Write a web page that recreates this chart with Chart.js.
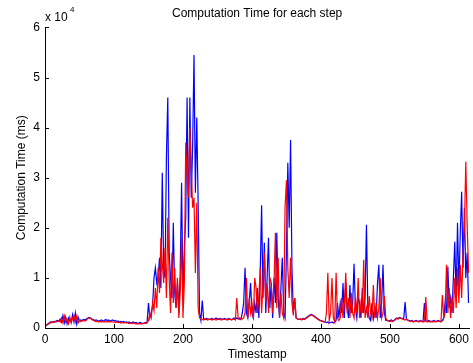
<!DOCTYPE html>
<html>
<head>
<meta charset="utf-8">
<script src="https://cdn.jsdelivr.net/npm/chart.js@4"></script>
<style>
  html, body { margin: 0; padding: 0; background: #fff; }
  canvas { display: block; }
</style>
</head>
<body>
<canvas id="chart" width="473" height="363"></canvas>
<script>
// --- data (values in units of 10^4 ms, one sample every 2 timestamps) ---
const STEP = 2;
const xTicks = [0, 100, 200, 300, 400, 500, 600];
const yTicks = [0, 1, 2, 3, 4, 5, 6];

const blueTimes = [
  0.05,0.06,0.08,0.10,0.12,0.11,0.13,0.12,0.14,0.15,
  0.13,0.18,0.12,0.25,0.10,0.22,0.08,0.20,0.14,0.12,
  0.27,0.12,0.30,0.08,0.22,0.14,0.16,0.15,0.17,0.16,
  0.18,0.20,0.21,0.20,0.18,0.17,0.15,0.16,0.15,0.14,
  0.15,0.16,0.14,0.15,0.17,0.15,0.16,0.14,0.15,0.16,
  0.14,0.15,0.13,0.14,0.12,0.13,0.12,0.13,0.11,0.12,
  0.11,0.12,0.10,0.11,0.12,0.10,0.11,0.09,0.10,0.11,
  0.10,0.09,0.10,0.11,0.12,0.50,0.20,0.30,0.45,1.00,
  1.20,0.90,1.00,1.40,0.80,3.10,1.20,1.00,3.40,4.60,
  1.50,1.00,0.60,2.10,0.70,0.40,0.90,0.30,1.10,2.90,
  0.60,1.60,2.20,4.60,1.80,4.60,2.60,3.60,5.45,2.70,
  4.20,2.50,0.30,0.15,0.55,0.18,0.17,0.19,0.18,0.17,
  0.18,0.19,0.17,0.18,0.20,0.18,0.17,0.19,0.18,0.17,
  0.19,0.18,0.17,0.19,0.18,0.17,0.18,0.20,0.18,0.20,
  0.18,0.20,0.17,0.30,0.50,1.20,0.30,0.20,0.50,0.90,
  0.30,0.20,0.50,0.30,0.80,0.20,1.10,2.45,0.60,1.70,
  0.30,1.00,1.80,0.40,0.90,0.20,1.00,0.50,1.90,0.60,
  0.20,0.80,1.40,0.30,0.20,1.50,3.30,2.00,3.75,1.20,
  0.30,0.60,0.20,0.18,0.17,0.18,0.17,0.19,0.18,0.20,
  0.22,0.24,0.26,0.27,0.26,0.24,0.22,0.20,0.18,0.16,
  0.15,0.14,0.13,0.12,0.11,0.12,0.10,0.11,0.12,0.10,
  0.12,0.15,0.50,0.20,0.50,0.30,0.90,0.20,0.90,0.40,
  0.20,0.86,0.30,0.50,1.28,0.40,0.20,0.60,0.50,0.20,
  0.80,0.30,0.60,2.06,0.40,0.20,0.15,0.50,0.20,0.40,
  0.20,0.90,1.26,0.20,0.50,1.26,0.30,0.15,0.15,0.14,
  0.15,0.16,0.14,0.15,0.18,0.20,0.19,0.21,0.20,0.19,
  0.18,0.52,0.17,0.16,0.15,0.14,0.15,0.13,0.14,0.15,
  0.14,0.13,0.15,0.14,0.13,0.50,0.14,0.13,0.15,0.14,
  0.13,0.14,0.15,0.13,0.14,0.15,0.14,0.13,0.15,0.20,
  0.50,0.30,1.22,0.40,0.60,0.30,1.00,1.72,0.60,2.10,
  0.80,1.90,2.72,1.20,2.40,1.00,1.50,0.50
];

const redTimes = [
  0.04,0.05,0.07,0.09,0.10,0.12,0.11,0.13,0.12,0.13,
  0.14,0.12,0.20,0.10,0.24,0.12,0.18,0.09,0.22,0.10,
  0.20,0.25,0.12,0.24,0.10,0.15,0.13,0.14,0.15,0.14,
  0.16,0.19,0.20,0.19,0.17,0.15,0.14,0.13,0.14,0.12,
  0.13,0.12,0.13,0.12,0.13,0.12,0.13,0.12,0.13,0.12,
  0.12,0.11,0.12,0.11,0.12,0.10,0.11,0.10,0.11,0.10,
  0.10,0.09,0.10,0.09,0.10,0.09,0.08,0.09,0.08,0.09,
  0.08,0.09,0.10,0.09,0.10,0.15,0.30,0.20,0.50,0.35,
  0.80,0.40,1.20,0.70,1.80,1.30,0.90,1.60,0.60,2.20,
  1.00,0.30,1.50,0.50,1.20,0.40,1.00,0.20,0.70,1.80,
  0.20,0.90,3.70,3.00,2.60,4.00,3.20,2.40,2.60,1.10,
  2.50,0.40,0.20,0.18,0.17,0.16,0.18,0.17,0.16,0.18,
  0.17,0.16,0.18,0.17,0.16,0.18,0.19,0.17,0.16,0.18,
  0.17,0.18,0.16,0.17,0.18,0.16,0.17,0.18,0.16,0.60,
  0.20,0.17,0.20,0.18,0.20,0.30,1.00,0.20,0.60,0.30,
  0.50,0.20,1.00,0.80,0.30,0.60,1.20,0.30,0.90,1.50,
  0.50,0.90,0.30,1.00,0.90,0.30,0.90,1.90,0.40,1.40,
  0.20,0.70,0.30,0.20,2.40,2.95,1.20,0.60,1.40,0.50,
  0.25,0.60,0.20,0.18,0.17,0.18,0.16,0.18,0.17,0.19,
  0.21,0.23,0.25,0.26,0.25,0.23,0.21,0.19,0.17,0.15,
  0.14,0.13,0.12,0.12,0.30,1.10,0.15,0.30,1.00,0.20,
  0.12,1.10,0.20,0.15,0.20,0.60,0.20,0.50,1.10,0.30,
  0.60,0.20,0.70,0.30,0.20,0.60,0.30,1.00,0.20,0.50,
  0.30,1.36,0.20,0.40,0.20,0.64,0.30,0.20,0.86,0.20,
  0.50,0.20,0.40,1.00,0.20,0.30,0.64,0.20,0.15,0.14,
  0.13,0.14,0.13,0.15,0.17,0.19,0.18,0.20,0.19,0.18,
  0.17,0.16,0.18,0.15,0.14,0.13,0.14,0.12,0.13,0.14,
  0.13,0.12,0.14,0.13,0.12,0.13,0.62,0.12,0.13,0.12,
  0.13,0.12,0.14,0.12,0.13,0.14,0.13,0.12,0.66,0.20,
  0.30,1.26,0.30,0.80,0.20,0.62,0.30,1.00,0.40,1.20,
  0.50,1.26,0.60,1.46,2.00,3.32,2.06,1.10
];

const FONT = '"Liberation Sans", Arial, Helvetica, sans-serif';

function toPoints(values) {
  return values.map((v, i) => ({ x: i * STEP, y: v }));
}

// MATLAB style: tick marks pointing into the plot + the "x 10^4" exponent
const matlabAxes = {
  id: 'matlabAxes',
  afterDraw(chart) {
    const { ctx, chartArea: a, scales: { x, y } } = chart;
    ctx.save();
    ctx.strokeStyle = '#000';
    ctx.lineWidth = 1;
    ctx.beginPath();
    xTicks.forEach(v => {
      const px = Math.round(x.getPixelForValue(v)) + 0.5;
      ctx.moveTo(px, a.bottom);
      ctx.lineTo(px, a.bottom - 4);
    });
    yTicks.forEach(v => {
      const py = Math.round(y.getPixelForValue(v)) + 0.5;
      ctx.moveTo(a.left, py);
      ctx.lineTo(a.left + 4, py);
    });
    ctx.stroke();

    ctx.fillStyle = '#000';
    ctx.textBaseline = 'alphabetic';
    ctx.textAlign = 'left';
    ctx.font = '12px ' + FONT;
    ctx.fillText('x 10', a.left, 21);
    ctx.font = '8px ' + FONT;
    ctx.fillText('4', a.left + 25, 12);
    ctx.restore();
  }
};

new Chart(document.getElementById('chart'), {
  type: 'line',
  data: {
    datasets: [
      {
        label: 'blue',
        data: toPoints(blueTimes),
        borderColor: '#0000ff',
        borderWidth: 1.2,
        pointRadius: 0,
        tension: 0,
        order: 2
      },
      {
        label: 'red',
        data: toPoints(redTimes),
        borderColor: '#ff0000',
        borderWidth: 1.2,
        pointRadius: 0,
        tension: 0,
        order: 1
      }
    ]
  },
  options: {
    responsive: false,
    animation: false,
    layout: { padding: { left: 0, right: 1, top: 0, bottom: 0 } },
    plugins: {
      legend: { display: false },
      tooltip: { enabled: false },
      title: {
        display: true,
        fullSize: false,  // centre over the plot area like MATLAB does
        text: 'Computation Time for each step',
        color: '#000',
        font: { family: FONT, size: 12, weight: 'normal' },
        padding: { top: 6, bottom: 7 }
      }
    },
    scales: {
      x: {
        type: 'linear',
        min: 0,
        max: 615,
        afterBuildTicks: s => { s.ticks = xTicks.map(v => ({ value: v })); },
        afterFit: s => { s.height = 35; },
        grid: { display: false, drawTicks: false },
        border: { display: true, color: '#000', width: 1 },
        ticks: { color: '#000', font: { family: FONT, size: 12 }, padding: 4, maxRotation: 0 },
        title: {
          display: true,
          text: 'Timestamp',
          color: '#000',
          font: { family: FONT, size: 12 },
          padding: { top: 0, bottom: 1 }
        }
      },
      y: {
        min: 0,
        max: 6,
        afterBuildTicks: s => { s.ticks = yTicks.map(v => ({ value: v })); },
        afterFit: s => { s.width = 45; },
        grid: { display: false, drawTicks: false },
        border: { display: true, color: '#000', width: 1 },
        ticks: { color: '#000', font: { family: FONT, size: 12 }, padding: 5 },
        title: {
          display: true,
          text: 'Computation Time (ms)',
          color: '#000',
          font: { family: FONT, size: 12 },
          padding: { top: 14, bottom: 0 }
        }
      }
    }
  },
  plugins: [matlabAxes]
});
</script>
</body>
</html>
